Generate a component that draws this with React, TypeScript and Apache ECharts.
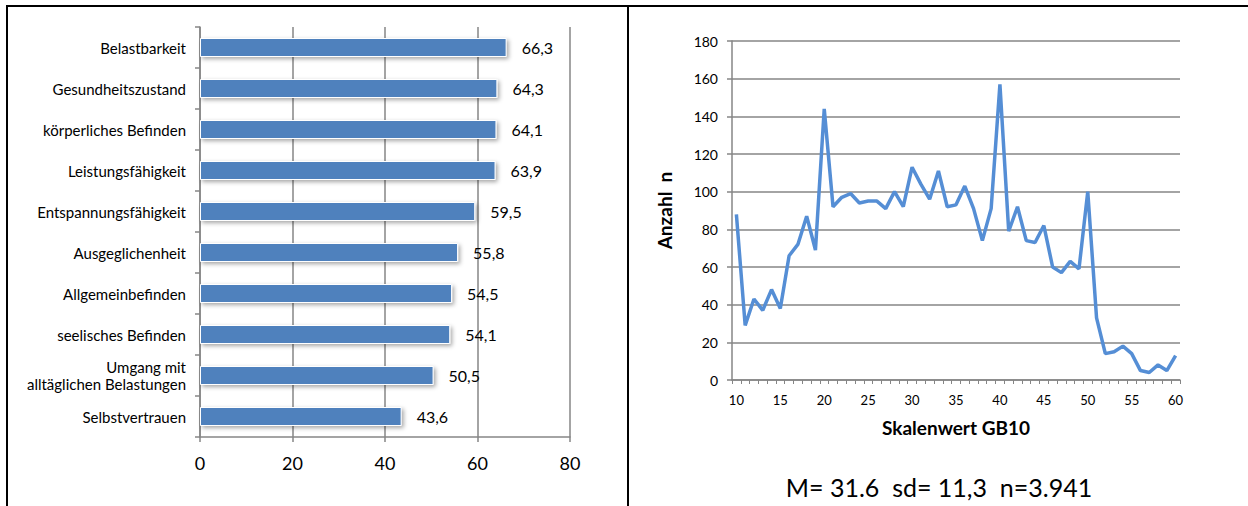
import React, { useEffect, useRef } from "react";
import * as echarts from "echarts";

const categories = [
  "Belastbarkeit",
  "Gesundheitszustand",
  "körperliches Befinden",
  "Leistungsfähigkeit",
  "Entspannungsfähigkeit",
  "Ausgeglichenheit",
  "Allgemeinbefinden",
  "seelisches Befinden",
  "Umgang mit\nalltäglichen Belastungen",
  "Selbstvertrauen",
];
const scores = [66.3, 64.3, 64.1, 63.9, 59.5, 55.8, 54.5, 54.1, 50.5, 43.6];
const scoreAxis = { min: 0, max: 80, interval: 20 };

const scaleValues = [
  "10", "11", "12", "13", "14", "15", "16", "17", "18", "19",
  "20", "21", "22", "23", "24", "25", "26", "27", "28", "29",
  "30", "31", "32", "33", "34", "35", "36", "37", "38", "39",
  "40", "41", "42", "43", "44", "45", "46", "47", "48", "49",
  "50", "51", "52", "53", "54", "55", "56", "57", "58", "59", "60",
];
const counts = [
  88, 29, 43, 37, 48, 38, 66, 72, 87, 69,
  144, 92, 97, 99, 94, 95, 95, 91, 100, 92,
  113, 104, 96, 111, 92, 93, 103, 91, 74, 91,
  157, 79, 92, 74, 73, 82, 60, 57, 63, 59,
  100, 33, 14, 15, 18, 14, 5, 4, 8, 5, 13,
];
const countAxis = { min: 0, max: 180, interval: 20 };
const statsText = "M= 31.6  sd= 11,3  n=3.941";

const FONT = "Lato, 'Open Sans', sans-serif";
const GRAY = "#868686";

export default function App() {
  const ref = useRef<HTMLDivElement>(null);
  useEffect(() => {
    if (!ref.current) return;
    const chart = echarts.init(ref.current, undefined, { renderer: "svg" });
    chart.setOption({
      animation: false,
      backgroundColor: "#ffffff",
      textStyle: { fontFamily: FONT },
      grid: [
        { left: 200, top: 27, width: 370, height: 410 },
        { left: 732, top: 41, width: 448, height: 339 },
      ],
      xAxis: [
        {
          gridIndex: 0,
          type: "value",
          min: scoreAxis.min,
          max: scoreAxis.max,
          interval: scoreAxis.interval,
          splitLine: { show: true, lineStyle: { color: GRAY, width: 1.5 } },
          axisLine: { show: true, lineStyle: { color: GRAY, width: 1.5 } },
          axisTick: { show: true, length: 5, lineStyle: { color: GRAY, width: 1.5 } },
          axisLabel: { fontSize: 18, color: "#000", margin: 17, fontFamily: FONT },
        },
        {
          gridIndex: 1,
          type: "category",
          data: scaleValues,
          boundaryGap: true,
          axisLine: { show: true, lineStyle: { color: GRAY, width: 1.5 } },
          axisTick: { show: true, interval: 0, length: 4, lineStyle: { color: GRAY, width: 1 } },
          axisLabel: { interval: 4, fontSize: 13, color: "#000", margin: 13, fontFamily: FONT },
          splitLine: { show: false },
          name: "Skalenwert GB10",
          nameLocation: "middle",
          nameGap: 38,
          nameTextStyle: { fontSize: 19, fontWeight: "bold", color: "#000", fontFamily: FONT },
        },
      ],
      yAxis: [
        {
          gridIndex: 0,
          type: "category",
          data: categories,
          inverse: true,
          axisLine: { show: true, lineStyle: { color: GRAY, width: 1.5 } },
          axisTick: { show: true, length: 5, lineStyle: { color: GRAY, width: 1.5 } },
          axisLabel: { fontSize: 15, color: "#000", margin: 14, lineHeight: 17, fontFamily: FONT, align: "right" },
          splitLine: { show: false },
        },
        {
          gridIndex: 1,
          type: "value",
          min: countAxis.min,
          max: countAxis.max,
          interval: countAxis.interval,
          splitLine: { show: true, lineStyle: { color: GRAY, width: 1.5 } },
          axisLine: { show: true, lineStyle: { color: GRAY, width: 1.5 } },
          axisTick: { show: true, length: 5, lineStyle: { color: GRAY, width: 1.5 } },
          axisLabel: { fontSize: 14, color: "#000", margin: 14, fontFamily: FONT },
          name: "Anzahl  n",
          nameLocation: "middle",
          nameGap: 58,
          nameRotate: 90,
          nameTextStyle: { fontSize: 19, fontWeight: "bold", color: "#000", fontFamily: FONT },
        },
      ],
      series: [
        {
          type: "bar",
          xAxisIndex: 0,
          yAxisIndex: 0,
          data: scores,
          barWidth: 19,
          itemStyle: {
            color: "#4F81BD",
            borderColor: "#ffffff",
            borderWidth: 1,
            shadowBlur: 4,
            shadowColor: "rgba(0,0,0,0.35)",
            shadowOffsetX: 2,
            shadowOffsetY: 2,
          },
          label: {
            show: true,
            position: "right",
            distance: 15,
            fontSize: 16,
            color: "#000",
            fontFamily: FONT,
            formatter: (p: any) => String(p.value).replace(".", ","),
          },
        },
        {
          type: "line",
          xAxisIndex: 1,
          yAxisIndex: 1,
          data: counts,
          symbol: "none",
          showSymbol: false,
          lineStyle: { color: "#558ED5", width: 3.5 },
        },
      ],
      graphic: [
        { type: "rect", shape: { x: 6, y: 5, width: 1242, height: 2 }, style: { fill: "#000" } },
        { type: "rect", shape: { x: 6, y: 5, width: 2, height: 501 }, style: { fill: "#000" } },
        { type: "rect", shape: { x: 627, y: 5, width: 2, height: 501 }, style: { fill: "#000" } },
        {
          type: "text",
          x: 939,
          y: 487,
          style: {
            text: statsText,
            fontSize: 25,
            fontFamily: FONT,
            fill: "#000",
            align: "center",
            verticalAlign: "middle",
          },
        },
      ],
    });
    return () => chart.dispose();
  }, []);
  return (
    <div
      ref={ref}
      style={{ position: "fixed", left: 0, top: 0, width: 1248, height: 506 }}
    />
  );
}
